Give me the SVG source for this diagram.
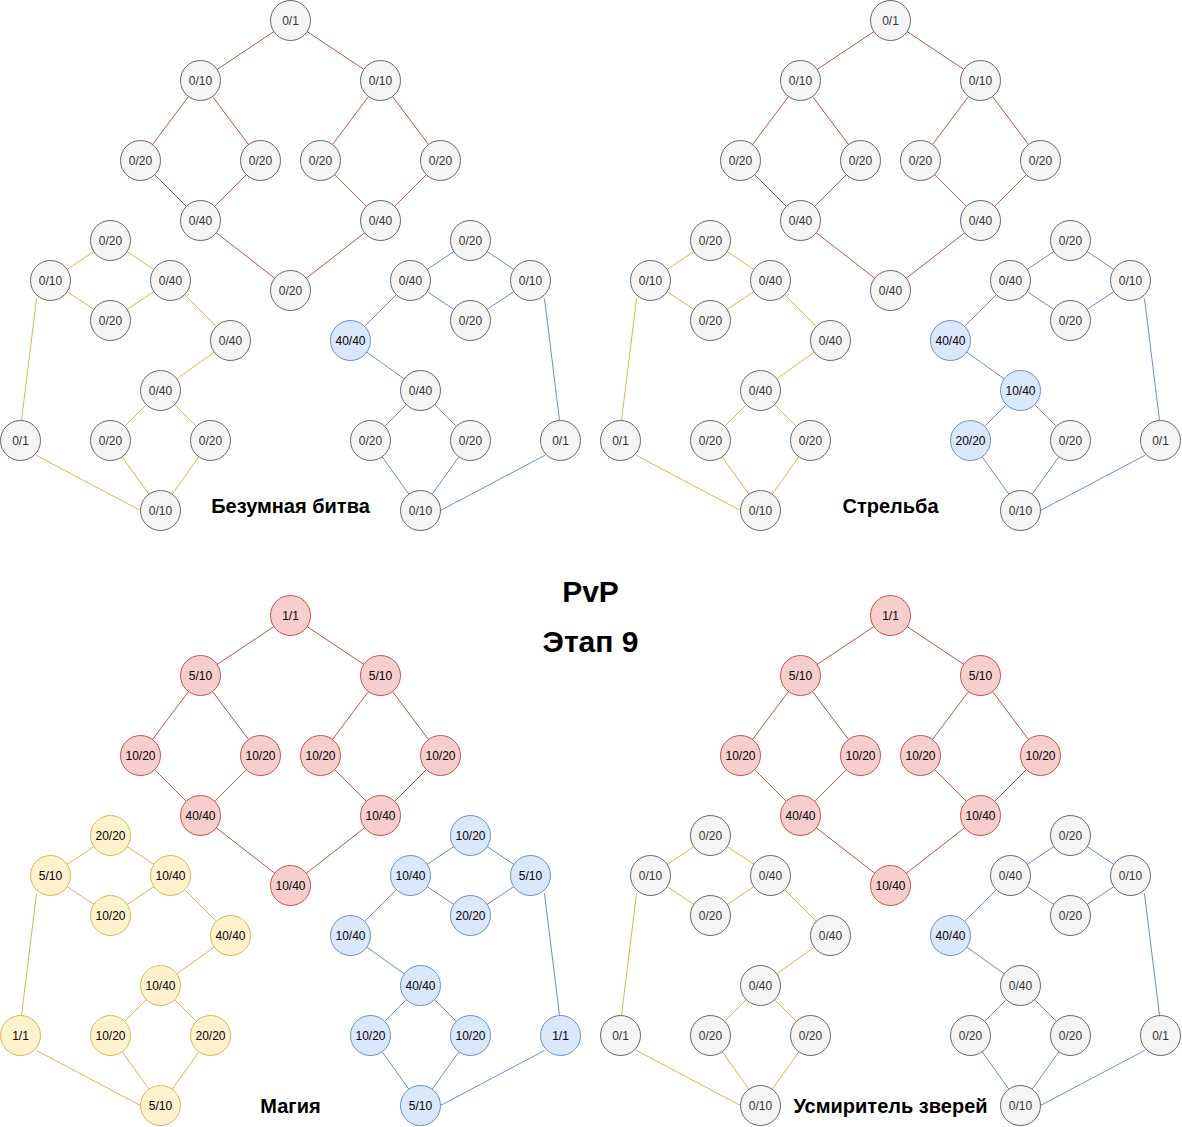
<svg xmlns="http://www.w3.org/2000/svg" width="1182" height="1127" viewBox="0 0 1182 1127">
<style>
text{font-family:"Liberation Sans",Arial,Helvetica,sans-serif;text-anchor:middle}
.n text{font-size:12px}
.n circle{stroke-width:1}
.g circle{fill:#f5f5f5;stroke:#666666}
.g text{fill:#333333}
.r circle{fill:#f8cecc;stroke:#b85450}
.b circle{fill:#dae8fc;stroke:#6c8ebf}
.y circle{fill:#fff2cc;stroke:#d6b656}
.r text,.b text,.y text{fill:#000000}
line{stroke-width:1;fill:none}
.er line{stroke:#b85450}
.ey line{stroke:#d6b656}
.eb line{stroke:#6c8ebf}
.title{font-size:20px;font-weight:bold;fill:#000000}
.head{font-size:30px;font-weight:bold;fill:#000000}
</style>
<rect x="0" y="0" width="1182" height="1127" fill="#ffffff"/>
<g transform="translate(0.5,0.5)">
<g id="connectors">
<g id="c-tl" transform="translate(0,0)">
<g class="er"><line x1="290" y1="20" x2="200" y2="80"/><line x1="290" y1="20" x2="380" y2="80"/><line x1="200" y1="80" x2="140" y2="160"/><line x1="200" y1="80" x2="260" y2="160"/><line x1="380" y1="80" x2="320" y2="160"/><line x1="380" y1="80" x2="440" y2="160"/><line x1="140" y1="160" x2="200" y2="220"/><line x1="260" y1="160" x2="200" y2="220"/><line x1="320" y1="160" x2="380" y2="220"/><line x1="440" y1="160" x2="380" y2="220"/><line x1="200" y1="220" x2="290" y2="290"/><line x1="380" y1="220" x2="290" y2="290"/></g>
<g class="ey"><line x1="50" y1="280" x2="110" y2="240"/><line x1="110" y1="240" x2="170" y2="280"/><line x1="50" y1="280" x2="110" y2="320"/><line x1="110" y1="320" x2="170" y2="280"/><line x1="170" y1="280" x2="230" y2="340"/><line x1="230" y1="340" x2="160" y2="390"/><line x1="160" y1="390" x2="110" y2="440"/><line x1="160" y1="390" x2="210" y2="440"/><line x1="110" y1="440" x2="160" y2="510"/><line x1="210" y1="440" x2="160" y2="510"/><line x1="36" y1="298" x2="21" y2="420"/><line x1="36" y1="455" x2="140" y2="510"/></g>
<g class="eb"><line x1="410" y1="280" x2="470" y2="240"/><line x1="470" y1="240" x2="530" y2="280"/><line x1="410" y1="280" x2="470" y2="320"/><line x1="470" y1="320" x2="530" y2="280"/><line x1="410" y1="280" x2="350" y2="340"/><line x1="350" y1="340" x2="420" y2="390"/><line x1="420" y1="390" x2="370" y2="440"/><line x1="420" y1="390" x2="470" y2="440"/><line x1="370" y1="440" x2="420" y2="510"/><line x1="470" y1="440" x2="420" y2="510"/><line x1="544" y1="298" x2="559" y2="420"/><line x1="544" y1="455" x2="440" y2="510"/></g>
</g>
<g id="c-tr" transform="translate(600,0)">
<g class="er"><line x1="290" y1="20" x2="200" y2="80"/><line x1="290" y1="20" x2="380" y2="80"/><line x1="200" y1="80" x2="140" y2="160"/><line x1="200" y1="80" x2="260" y2="160"/><line x1="380" y1="80" x2="320" y2="160"/><line x1="380" y1="80" x2="440" y2="160"/><line x1="140" y1="160" x2="200" y2="220"/><line x1="260" y1="160" x2="200" y2="220"/><line x1="320" y1="160" x2="380" y2="220"/><line x1="440" y1="160" x2="380" y2="220"/><line x1="200" y1="220" x2="290" y2="290"/><line x1="380" y1="220" x2="290" y2="290"/></g>
<g class="ey"><line x1="50" y1="280" x2="110" y2="240"/><line x1="110" y1="240" x2="170" y2="280"/><line x1="50" y1="280" x2="110" y2="320"/><line x1="110" y1="320" x2="170" y2="280"/><line x1="170" y1="280" x2="230" y2="340"/><line x1="230" y1="340" x2="160" y2="390"/><line x1="160" y1="390" x2="110" y2="440"/><line x1="160" y1="390" x2="210" y2="440"/><line x1="110" y1="440" x2="160" y2="510"/><line x1="210" y1="440" x2="160" y2="510"/><line x1="36" y1="298" x2="21" y2="420"/><line x1="36" y1="455" x2="140" y2="510"/></g>
<g class="eb"><line x1="410" y1="280" x2="470" y2="240"/><line x1="470" y1="240" x2="530" y2="280"/><line x1="410" y1="280" x2="470" y2="320"/><line x1="470" y1="320" x2="530" y2="280"/><line x1="410" y1="280" x2="350" y2="340"/><line x1="350" y1="340" x2="420" y2="390"/><line x1="420" y1="390" x2="370" y2="440"/><line x1="420" y1="390" x2="470" y2="440"/><line x1="370" y1="440" x2="420" y2="510"/><line x1="470" y1="440" x2="420" y2="510"/><line x1="544" y1="298" x2="559" y2="420"/><line x1="544" y1="455" x2="440" y2="510"/></g>
</g>
<g id="c-bl" transform="translate(0,595)">
<g class="er"><line x1="290" y1="20" x2="200" y2="80"/><line x1="290" y1="20" x2="380" y2="80"/><line x1="200" y1="80" x2="140" y2="160"/><line x1="200" y1="80" x2="260" y2="160"/><line x1="380" y1="80" x2="320" y2="160"/><line x1="380" y1="80" x2="440" y2="160"/><line x1="140" y1="160" x2="200" y2="220"/><line x1="260" y1="160" x2="200" y2="220"/><line x1="320" y1="160" x2="380" y2="220"/><line x1="440" y1="160" x2="380" y2="220"/><line x1="200" y1="220" x2="290" y2="290"/><line x1="380" y1="220" x2="290" y2="290"/></g>
<g class="ey"><line x1="50" y1="280" x2="110" y2="240"/><line x1="110" y1="240" x2="170" y2="280"/><line x1="50" y1="280" x2="110" y2="320"/><line x1="110" y1="320" x2="170" y2="280"/><line x1="170" y1="280" x2="230" y2="340"/><line x1="230" y1="340" x2="160" y2="390"/><line x1="160" y1="390" x2="110" y2="440"/><line x1="160" y1="390" x2="210" y2="440"/><line x1="110" y1="440" x2="160" y2="510"/><line x1="210" y1="440" x2="160" y2="510"/><line x1="36" y1="298" x2="21" y2="420"/><line x1="36" y1="455" x2="140" y2="510"/></g>
<g class="eb"><line x1="410" y1="280" x2="470" y2="240"/><line x1="470" y1="240" x2="530" y2="280"/><line x1="410" y1="280" x2="470" y2="320"/><line x1="470" y1="320" x2="530" y2="280"/><line x1="410" y1="280" x2="350" y2="340"/><line x1="350" y1="340" x2="420" y2="390"/><line x1="420" y1="390" x2="370" y2="440"/><line x1="420" y1="390" x2="470" y2="440"/><line x1="370" y1="440" x2="420" y2="510"/><line x1="470" y1="440" x2="420" y2="510"/><line x1="544" y1="298" x2="559" y2="420"/><line x1="544" y1="455" x2="440" y2="510"/></g>
</g>
<g id="c-br" transform="translate(600,595)">
<g class="er"><line x1="290" y1="20" x2="200" y2="80"/><line x1="290" y1="20" x2="380" y2="80"/><line x1="200" y1="80" x2="140" y2="160"/><line x1="200" y1="80" x2="260" y2="160"/><line x1="380" y1="80" x2="320" y2="160"/><line x1="380" y1="80" x2="440" y2="160"/><line x1="140" y1="160" x2="200" y2="220"/><line x1="260" y1="160" x2="200" y2="220"/><line x1="320" y1="160" x2="380" y2="220"/><line x1="440" y1="160" x2="380" y2="220"/><line x1="200" y1="220" x2="290" y2="290"/><line x1="380" y1="220" x2="290" y2="290"/></g>
<g class="ey"><line x1="50" y1="280" x2="110" y2="240"/><line x1="110" y1="240" x2="170" y2="280"/><line x1="50" y1="280" x2="110" y2="320"/><line x1="110" y1="320" x2="170" y2="280"/><line x1="170" y1="280" x2="230" y2="340"/><line x1="230" y1="340" x2="160" y2="390"/><line x1="160" y1="390" x2="110" y2="440"/><line x1="160" y1="390" x2="210" y2="440"/><line x1="110" y1="440" x2="160" y2="510"/><line x1="210" y1="440" x2="160" y2="510"/><line x1="36" y1="298" x2="21" y2="420"/><line x1="36" y1="455" x2="140" y2="510"/></g>
<g class="eb"><line x1="410" y1="280" x2="470" y2="240"/><line x1="470" y1="240" x2="530" y2="280"/><line x1="410" y1="280" x2="470" y2="320"/><line x1="470" y1="320" x2="530" y2="280"/><line x1="410" y1="280" x2="350" y2="340"/><line x1="350" y1="340" x2="420" y2="390"/><line x1="420" y1="390" x2="370" y2="440"/><line x1="420" y1="390" x2="470" y2="440"/><line x1="370" y1="440" x2="420" y2="510"/><line x1="470" y1="440" x2="420" y2="510"/><line x1="544" y1="298" x2="559" y2="420"/><line x1="544" y1="455" x2="440" y2="510"/></g>
</g>
</g>

<g id="panel-tl" transform="translate(0,0)">
<g id="tl-r1" class="n g"><circle cx="290" cy="20" r="20"/><text x="290" y="24">0/1</text></g>
<g id="tl-r2" class="n g"><circle cx="200" cy="80" r="20"/><text x="200" y="84">0/10</text></g>
<g id="tl-r3" class="n g"><circle cx="380" cy="80" r="20"/><text x="380" y="84">0/10</text></g>
<g id="tl-r4" class="n g"><circle cx="140" cy="160" r="20"/><text x="140" y="164">0/20</text></g>
<g id="tl-r5" class="n g"><circle cx="260" cy="160" r="20"/><text x="260" y="164">0/20</text></g>
<g id="tl-r6" class="n g"><circle cx="320" cy="160" r="20"/><text x="320" y="164">0/20</text></g>
<g id="tl-r7" class="n g"><circle cx="440" cy="160" r="20"/><text x="440" y="164">0/20</text></g>
<g id="tl-r8" class="n g"><circle cx="200" cy="220" r="20"/><text x="200" y="224">0/40</text></g>
<g id="tl-r9" class="n g"><circle cx="380" cy="220" r="20"/><text x="380" y="224">0/40</text></g>
<g id="tl-r10" class="n g"><circle cx="290" cy="290" r="20"/><text x="290" y="294">0/20</text></g>
<g id="tl-y1" class="n g"><circle cx="110" cy="240" r="20"/><text x="110" y="244">0/20</text></g>
<g id="tl-y2" class="n g"><circle cx="50" cy="280" r="20"/><text x="50" y="284">0/10</text></g>
<g id="tl-y3" class="n g"><circle cx="170" cy="280" r="20"/><text x="170" y="284">0/40</text></g>
<g id="tl-y4" class="n g"><circle cx="110" cy="320" r="20"/><text x="110" y="324">0/20</text></g>
<g id="tl-y5" class="n g"><circle cx="230" cy="340" r="20"/><text x="230" y="344">0/40</text></g>
<g id="tl-y6" class="n g"><circle cx="160" cy="390" r="20"/><text x="160" y="394">0/40</text></g>
<g id="tl-y7" class="n g"><circle cx="20" cy="440" r="20"/><text x="20" y="444">0/1</text></g>
<g id="tl-y8" class="n g"><circle cx="110" cy="440" r="20"/><text x="110" y="444">0/20</text></g>
<g id="tl-y9" class="n g"><circle cx="210" cy="440" r="20"/><text x="210" y="444">0/20</text></g>
<g id="tl-y10" class="n g"><circle cx="160" cy="510" r="20"/><text x="160" y="514">0/10</text></g>
<g id="tl-b1" class="n g"><circle cx="470" cy="240" r="20"/><text x="470" y="244">0/20</text></g>
<g id="tl-b2" class="n g"><circle cx="410" cy="280" r="20"/><text x="410" y="284">0/40</text></g>
<g id="tl-b3" class="n g"><circle cx="530" cy="280" r="20"/><text x="530" y="284">0/10</text></g>
<g id="tl-b4" class="n g"><circle cx="470" cy="320" r="20"/><text x="470" y="324">0/20</text></g>
<g id="tl-b5" class="n b"><circle cx="350" cy="340" r="20"/><text x="350" y="344">40/40</text></g>
<g id="tl-b6" class="n g"><circle cx="420" cy="390" r="20"/><text x="420" y="394">0/40</text></g>
<g id="tl-b7" class="n g"><circle cx="370" cy="440" r="20"/><text x="370" y="444">0/20</text></g>
<g id="tl-b8" class="n g"><circle cx="470" cy="440" r="20"/><text x="470" y="444">0/20</text></g>
<g id="tl-b9" class="n g"><circle cx="560" cy="440" r="20"/><text x="560" y="444">0/1</text></g>
<g id="tl-b10" class="n g"><circle cx="420" cy="510" r="20"/><text x="420" y="514">0/10</text></g>
<g id="tl-title"><text class="title" x="290" y="512">Безумная битва</text></g>
</g>

<g id="panel-tr" transform="translate(600,0)">
<g id="tr-r1" class="n g"><circle cx="290" cy="20" r="20"/><text x="290" y="24">0/1</text></g>
<g id="tr-r2" class="n g"><circle cx="200" cy="80" r="20"/><text x="200" y="84">0/10</text></g>
<g id="tr-r3" class="n g"><circle cx="380" cy="80" r="20"/><text x="380" y="84">0/10</text></g>
<g id="tr-r4" class="n g"><circle cx="140" cy="160" r="20"/><text x="140" y="164">0/20</text></g>
<g id="tr-r5" class="n g"><circle cx="260" cy="160" r="20"/><text x="260" y="164">0/20</text></g>
<g id="tr-r6" class="n g"><circle cx="320" cy="160" r="20"/><text x="320" y="164">0/20</text></g>
<g id="tr-r7" class="n g"><circle cx="440" cy="160" r="20"/><text x="440" y="164">0/20</text></g>
<g id="tr-r8" class="n g"><circle cx="200" cy="220" r="20"/><text x="200" y="224">0/40</text></g>
<g id="tr-r9" class="n g"><circle cx="380" cy="220" r="20"/><text x="380" y="224">0/40</text></g>
<g id="tr-r10" class="n g"><circle cx="290" cy="290" r="20"/><text x="290" y="294">0/40</text></g>
<g id="tr-y1" class="n g"><circle cx="110" cy="240" r="20"/><text x="110" y="244">0/20</text></g>
<g id="tr-y2" class="n g"><circle cx="50" cy="280" r="20"/><text x="50" y="284">0/10</text></g>
<g id="tr-y3" class="n g"><circle cx="170" cy="280" r="20"/><text x="170" y="284">0/40</text></g>
<g id="tr-y4" class="n g"><circle cx="110" cy="320" r="20"/><text x="110" y="324">0/20</text></g>
<g id="tr-y5" class="n g"><circle cx="230" cy="340" r="20"/><text x="230" y="344">0/40</text></g>
<g id="tr-y6" class="n g"><circle cx="160" cy="390" r="20"/><text x="160" y="394">0/40</text></g>
<g id="tr-y7" class="n g"><circle cx="20" cy="440" r="20"/><text x="20" y="444">0/1</text></g>
<g id="tr-y8" class="n g"><circle cx="110" cy="440" r="20"/><text x="110" y="444">0/20</text></g>
<g id="tr-y9" class="n g"><circle cx="210" cy="440" r="20"/><text x="210" y="444">0/20</text></g>
<g id="tr-y10" class="n g"><circle cx="160" cy="510" r="20"/><text x="160" y="514">0/10</text></g>
<g id="tr-b1" class="n g"><circle cx="470" cy="240" r="20"/><text x="470" y="244">0/20</text></g>
<g id="tr-b2" class="n g"><circle cx="410" cy="280" r="20"/><text x="410" y="284">0/40</text></g>
<g id="tr-b3" class="n g"><circle cx="530" cy="280" r="20"/><text x="530" y="284">0/10</text></g>
<g id="tr-b4" class="n g"><circle cx="470" cy="320" r="20"/><text x="470" y="324">0/20</text></g>
<g id="tr-b5" class="n b"><circle cx="350" cy="340" r="20"/><text x="350" y="344">40/40</text></g>
<g id="tr-b6" class="n b"><circle cx="420" cy="390" r="20"/><text x="420" y="394">10/40</text></g>
<g id="tr-b7" class="n b"><circle cx="370" cy="440" r="20"/><text x="370" y="444">20/20</text></g>
<g id="tr-b8" class="n g"><circle cx="470" cy="440" r="20"/><text x="470" y="444">0/20</text></g>
<g id="tr-b9" class="n g"><circle cx="560" cy="440" r="20"/><text x="560" y="444">0/1</text></g>
<g id="tr-b10" class="n g"><circle cx="420" cy="510" r="20"/><text x="420" y="514">0/10</text></g>
<g id="tr-title"><text class="title" x="290" y="512">Стрельба</text></g>
</g>

<g id="panel-bl" transform="translate(0,595)">
<g id="bl-r1" class="n r"><circle cx="290" cy="20" r="20"/><text x="290" y="24">1/1</text></g>
<g id="bl-r2" class="n r"><circle cx="200" cy="80" r="20"/><text x="200" y="84">5/10</text></g>
<g id="bl-r3" class="n r"><circle cx="380" cy="80" r="20"/><text x="380" y="84">5/10</text></g>
<g id="bl-r4" class="n r"><circle cx="140" cy="160" r="20"/><text x="140" y="164">10/20</text></g>
<g id="bl-r5" class="n r"><circle cx="260" cy="160" r="20"/><text x="260" y="164">10/20</text></g>
<g id="bl-r6" class="n r"><circle cx="320" cy="160" r="20"/><text x="320" y="164">10/20</text></g>
<g id="bl-r7" class="n r"><circle cx="440" cy="160" r="20"/><text x="440" y="164">10/20</text></g>
<g id="bl-r8" class="n r"><circle cx="200" cy="220" r="20"/><text x="200" y="224">40/40</text></g>
<g id="bl-r9" class="n r"><circle cx="380" cy="220" r="20"/><text x="380" y="224">10/40</text></g>
<g id="bl-r10" class="n r"><circle cx="290" cy="290" r="20"/><text x="290" y="294">10/40</text></g>
<g id="bl-y1" class="n y"><circle cx="110" cy="240" r="20"/><text x="110" y="244">20/20</text></g>
<g id="bl-y2" class="n y"><circle cx="50" cy="280" r="20"/><text x="50" y="284">5/10</text></g>
<g id="bl-y3" class="n y"><circle cx="170" cy="280" r="20"/><text x="170" y="284">10/40</text></g>
<g id="bl-y4" class="n y"><circle cx="110" cy="320" r="20"/><text x="110" y="324">10/20</text></g>
<g id="bl-y5" class="n y"><circle cx="230" cy="340" r="20"/><text x="230" y="344">40/40</text></g>
<g id="bl-y6" class="n y"><circle cx="160" cy="390" r="20"/><text x="160" y="394">10/40</text></g>
<g id="bl-y7" class="n y"><circle cx="20" cy="440" r="20"/><text x="20" y="444">1/1</text></g>
<g id="bl-y8" class="n y"><circle cx="110" cy="440" r="20"/><text x="110" y="444">10/20</text></g>
<g id="bl-y9" class="n y"><circle cx="210" cy="440" r="20"/><text x="210" y="444">20/20</text></g>
<g id="bl-y10" class="n y"><circle cx="160" cy="510" r="20"/><text x="160" y="514">5/10</text></g>
<g id="bl-b1" class="n b"><circle cx="470" cy="240" r="20"/><text x="470" y="244">10/20</text></g>
<g id="bl-b2" class="n b"><circle cx="410" cy="280" r="20"/><text x="410" y="284">10/40</text></g>
<g id="bl-b3" class="n b"><circle cx="530" cy="280" r="20"/><text x="530" y="284">5/10</text></g>
<g id="bl-b4" class="n b"><circle cx="470" cy="320" r="20"/><text x="470" y="324">20/20</text></g>
<g id="bl-b5" class="n b"><circle cx="350" cy="340" r="20"/><text x="350" y="344">10/40</text></g>
<g id="bl-b6" class="n b"><circle cx="420" cy="390" r="20"/><text x="420" y="394">40/40</text></g>
<g id="bl-b7" class="n b"><circle cx="370" cy="440" r="20"/><text x="370" y="444">10/20</text></g>
<g id="bl-b8" class="n b"><circle cx="470" cy="440" r="20"/><text x="470" y="444">10/20</text></g>
<g id="bl-b9" class="n b"><circle cx="560" cy="440" r="20"/><text x="560" y="444">1/1</text></g>
<g id="bl-b10" class="n b"><circle cx="420" cy="510" r="20"/><text x="420" y="514">5/10</text></g>
<g id="bl-title"><text class="title" x="290" y="517">Магия</text></g>
</g>

<g id="panel-br" transform="translate(600,595)">
<g id="br-r1" class="n r"><circle cx="290" cy="20" r="20"/><text x="290" y="24">1/1</text></g>
<g id="br-r2" class="n r"><circle cx="200" cy="80" r="20"/><text x="200" y="84">5/10</text></g>
<g id="br-r3" class="n r"><circle cx="380" cy="80" r="20"/><text x="380" y="84">5/10</text></g>
<g id="br-r4" class="n r"><circle cx="140" cy="160" r="20"/><text x="140" y="164">10/20</text></g>
<g id="br-r5" class="n r"><circle cx="260" cy="160" r="20"/><text x="260" y="164">10/20</text></g>
<g id="br-r6" class="n r"><circle cx="320" cy="160" r="20"/><text x="320" y="164">10/20</text></g>
<g id="br-r7" class="n r"><circle cx="440" cy="160" r="20"/><text x="440" y="164">10/20</text></g>
<g id="br-r8" class="n r"><circle cx="200" cy="220" r="20"/><text x="200" y="224">40/40</text></g>
<g id="br-r9" class="n r"><circle cx="380" cy="220" r="20"/><text x="380" y="224">10/40</text></g>
<g id="br-r10" class="n r"><circle cx="290" cy="290" r="20"/><text x="290" y="294">10/40</text></g>
<g id="br-y1" class="n g"><circle cx="110" cy="240" r="20"/><text x="110" y="244">0/20</text></g>
<g id="br-y2" class="n g"><circle cx="50" cy="280" r="20"/><text x="50" y="284">0/10</text></g>
<g id="br-y3" class="n g"><circle cx="170" cy="280" r="20"/><text x="170" y="284">0/40</text></g>
<g id="br-y4" class="n g"><circle cx="110" cy="320" r="20"/><text x="110" y="324">0/20</text></g>
<g id="br-y5" class="n g"><circle cx="230" cy="340" r="20"/><text x="230" y="344">0/40</text></g>
<g id="br-y6" class="n g"><circle cx="160" cy="390" r="20"/><text x="160" y="394">0/40</text></g>
<g id="br-y7" class="n g"><circle cx="20" cy="440" r="20"/><text x="20" y="444">0/1</text></g>
<g id="br-y8" class="n g"><circle cx="110" cy="440" r="20"/><text x="110" y="444">0/20</text></g>
<g id="br-y9" class="n g"><circle cx="210" cy="440" r="20"/><text x="210" y="444">0/20</text></g>
<g id="br-y10" class="n g"><circle cx="160" cy="510" r="20"/><text x="160" y="514">0/10</text></g>
<g id="br-b1" class="n g"><circle cx="470" cy="240" r="20"/><text x="470" y="244">0/20</text></g>
<g id="br-b2" class="n g"><circle cx="410" cy="280" r="20"/><text x="410" y="284">0/40</text></g>
<g id="br-b3" class="n g"><circle cx="530" cy="280" r="20"/><text x="530" y="284">0/10</text></g>
<g id="br-b4" class="n g"><circle cx="470" cy="320" r="20"/><text x="470" y="324">0/20</text></g>
<g id="br-b5" class="n b"><circle cx="350" cy="340" r="20"/><text x="350" y="344">40/40</text></g>
<g id="br-b6" class="n g"><circle cx="420" cy="390" r="20"/><text x="420" y="394">0/40</text></g>
<g id="br-b7" class="n g"><circle cx="370" cy="440" r="20"/><text x="370" y="444">0/20</text></g>
<g id="br-b8" class="n g"><circle cx="470" cy="440" r="20"/><text x="470" y="444">0/20</text></g>
<g id="br-b9" class="n g"><circle cx="560" cy="440" r="20"/><text x="560" y="444">0/1</text></g>
<g id="br-b10" class="n g"><circle cx="420" cy="510" r="20"/><text x="420" y="514">0/10</text></g>
<g id="br-title"><text class="title" x="290" y="517">Усмиритель зверей</text></g>
</g>

<g id="heading">
<text class="head" x="590" y="601">PvP</text>
<text class="head" x="590" y="651">Этап 9</text>
</g>
</g>
</svg>
